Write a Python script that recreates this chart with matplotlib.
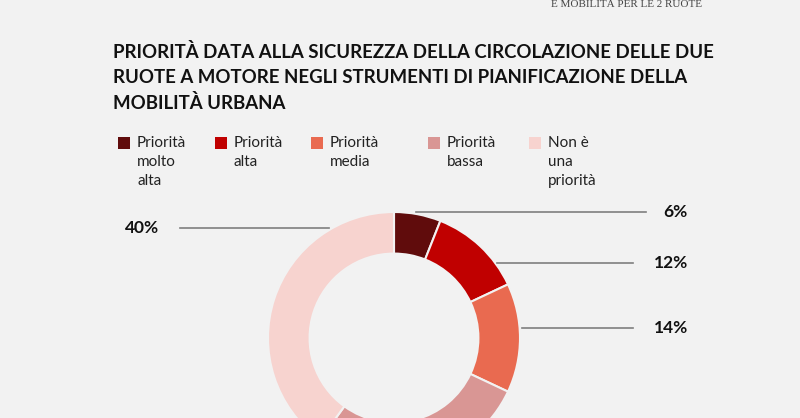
import matplotlib
matplotlib.use("Agg")
import matplotlib.pyplot as plt
import numpy as np

categories = ["Priorità\nmolto\nalta", "Priorità\nalta", "Priorità\nmedia", "Priorità\nbassa", "Non è\nuna\npriorità"]
values = [6, 12, 14, 28, 40]
labels = ["6%", "12%", "14%", "28%", "40%"]
colors = ["#600c0c", "#c00000", "#e96a50", "#d99694", "#f7d3cf"]

title = "PRIORITÀ DATA ALLA SICUREZZA DELLA CIRCOLAZIONE DELLE DUE\nRUOTE A MOTORE NEGLI STRUMENTI DI PIANIFICAZIONE DELLA\nMOBILITÀ URBANA"
header = "E MOBILITÀ PER LE 2 RUOTE"

W, H = 800, 418
bg = "#f2f2f2"
fig = plt.figure(figsize=(W / 100, H / 100), dpi=100, facecolor=bg)
ax = fig.add_axes([0, 0, 1, 1])
ax.set_facecolor(bg)

cx, cy, R = 394, H - 338, 126
ax.pie(values, colors=colors, startangle=90, counterclock=False, center=(cx, cy), radius=R,
       wedgeprops=dict(width=R * 0.33, edgecolor=bg, linewidth=1.5), frame=True)
ax.set_xlim(0, W)
ax.set_ylim(0, H)
ax.set_aspect("equal")
ax.axis("off")

# header
fig.text(702 / W, 1 - 7 / H, header, family="Liberation Serif", fontsize=8,
         color="#444444", ha="right", va="baseline")

# title
fig.text(113 / W, 1 - 43 / H, title, family="Lato", weight="bold", fontsize=13.4,
         color="#111111", ha="left", va="top", linespacing=1.55)

# legend
leg_x = [118, 215, 311, 428, 529]
for x, c, t in zip(leg_x, colors, categories):
    ax.add_patch(plt.Rectangle((x, H - 149), 12, 12, color=c, lw=0))
    ax.text(x + 19, H - 136, t, family="Lato", fontsize=11, color="#222222",
            ha="left", va="top", linespacing=1.45)

# data labels with leader lines
label_y = {0: 212, 1: 263, 2: 328, 4: 228}
line_end = {0: 646, 1: 633, 2: 633, 4: 180}
for i, y in label_y.items():
    dy = (H - y) - cy
    dx = np.sqrt(max(R ** 2 - dy ** 2, 0))
    right = i < 3
    xs = cx + dx + (22 if i == 0 else 2) if right else cx - dx - 4
    ax.plot([xs, line_end[i]], [H - y, H - y], color="#7f7f7f", lw=1.2)
    if right:
        ax.text(688, H - y, labels[i], family="Lato", weight="bold", fontsize=12.5,
                color="#111111", ha="right", va="center")
    else:
        ax.text(125, H - y, labels[i], family="Lato", weight="bold", fontsize=12.5,
                color="#111111", ha="left", va="center")

fig.savefig("out.png", dpi=100, facecolor=bg)
